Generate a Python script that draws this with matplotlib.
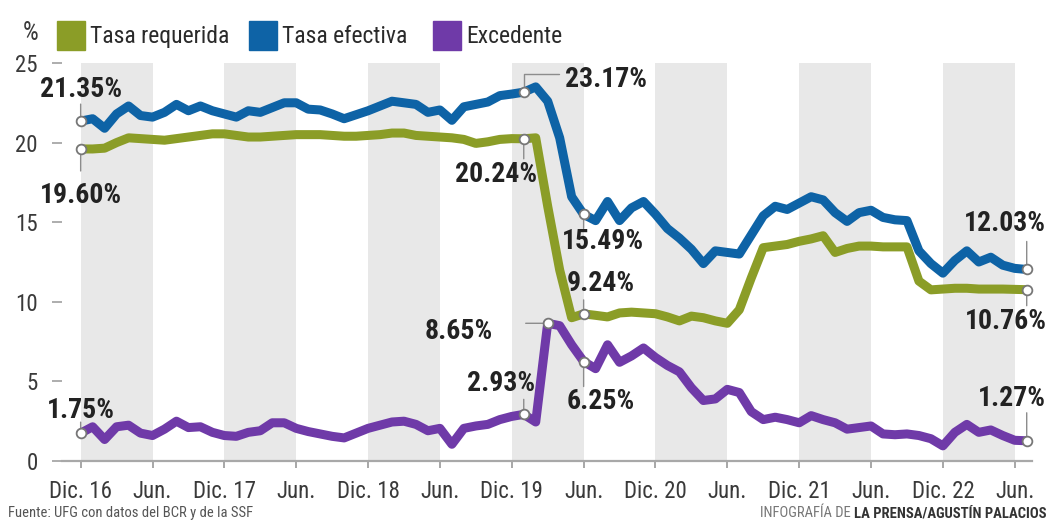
import matplotlib
matplotlib.use('Agg')
import matplotlib.pyplot as plt
from matplotlib import font_manager
from matplotlib.patches import Rectangle

# monthly series, Dic. 2016 -> mid 2023 (%)
requerida = [19.6, 19.6, 19.65, 20.0, 20.3, 20.25, 20.2, 20.15, 20.25, 20.35,
             20.45, 20.55, 20.55, 20.45, 20.35, 20.35, 20.4, 20.45, 20.5, 20.5,
             20.5, 20.45, 20.4, 20.4, 20.45, 20.5, 20.6, 20.6, 20.45, 20.4,
             20.35, 20.3, 20.2, 19.95, 20.05, 20.2, 20.25, 20.24, 20.3, 16.0,
             12.0, 9.0, 9.24, 9.15, 9.05, 9.3, 9.35, 9.3, 9.25, 9.05,
             8.8, 9.1, 9.0, 8.8, 8.65, 9.5, 11.5, 13.4, 13.5, 13.6,
             13.8, 13.95, 14.15, 13.1, 13.35, 13.5, 13.5, 13.45, 13.45, 13.45,
             11.3, 10.75, 10.8, 10.85, 10.85, 10.8, 10.8, 10.8, 10.78, 10.76]
efectiva = [21.35, 21.5, 20.9, 21.8, 22.3, 21.7, 21.6, 21.9, 22.4, 22.0,
            22.3, 22.0, 21.8, 21.6, 22.0, 21.9, 22.2, 22.5, 22.5, 22.1,
            22.05, 21.8, 21.5, 21.75, 22.0, 22.3, 22.6, 22.5, 22.4, 21.9,
            22.05, 21.4, 22.25, 22.4, 22.55, 22.95, 23.05, 23.17, 23.5, 22.6,
            20.3, 16.6, 15.49, 15.1, 16.3, 15.1, 15.9, 16.3, 15.5, 14.6,
            14.0, 13.3, 12.4, 13.2, 13.1, 13.0, 14.2, 15.4, 16.0, 15.8,
            16.2, 16.6, 16.4, 15.6, 15.05, 15.6, 15.75, 15.3, 15.15, 15.1,
            13.2, 12.4, 11.8, 12.6, 13.2, 12.5, 12.8, 12.3, 12.1, 12.03]
excedente = [1.75, 2.15, 1.35, 2.15, 2.25, 1.75, 1.6, 2.0, 2.5, 2.1,
             2.15, 1.8, 1.6, 1.55, 1.8, 1.9, 2.4, 2.4, 2.05, 1.85,
             1.7, 1.55, 1.45, 1.75, 2.05, 2.25, 2.45, 2.5, 2.3, 1.9,
             2.05, 1.05, 2.05, 2.2, 2.3, 2.6, 2.8, 2.93, 2.45, 8.65,
             8.5, 7.3, 6.25, 5.8, 7.3, 6.2, 6.6, 7.1, 6.5, 6.0,
             5.6, 4.6, 3.8, 3.9, 4.5, 4.3, 3.1, 2.6, 2.75, 2.6,
             2.4, 2.85, 2.6, 2.4, 2.0, 2.1, 2.2, 1.7, 1.65, 1.7,
             1.6, 1.4, 0.95, 1.8, 2.3, 1.8, 1.95, 1.6, 1.3, 1.27]
tick_labels = ['Dic. 16', 'Jun.', 'Dic. 17', 'Jun.', 'Dic. 18', 'Jun.', 'Dic. 19',
               'Jun.', 'Dic. 20', 'Jun.', 'Dic. 21', 'Jun.', 'Dic. 22', 'Jun.']

verde = '#8b9d27'
azul = '#0e63a6'
morado = '#6f3aa8'
texto = '#222222'

# pick a narrow font if there is one
names = set(f.name for f in font_manager.fontManager.ttflist)
narrow = 'DejaVu Sans'
for n in ['Liberation Sans Narrow', 'Roboto Condensed', 'Open Sans Condensed']:
    if n in names:
        narrow = n
        break
plt.rcParams['font.family'] = [narrow, 'DejaVu Sans']

fig = plt.figure(figsize=(10.5, 5.23), dpi=100)
ax = fig.add_axes([61.5 / 1050, 62 / 523, 970 / 1050, 398 / 523])

x = list(range(len(efectiva)))
ticks = list(range(0, 6 * len(tick_labels), 6))

# gray bands Dic -> Jun
for t in ticks[::2]:
    ax.axvspan(t, t + 6, color='#e8e8e8', lw=0, zorder=0)

estilo = dict(lw=6.5, solid_joinstyle='round', solid_capstyle='round')
ax.plot(x, requerida, color=verde, zorder=3, **estilo)
ax.plot(x, efectiva, color=azul, zorder=3, **estilo)
ax.plot(x, excedente, color=morado, zorder=4, **estilo)

ax.set_xlim(-1.6, 79.4)
ax.set_ylim(0, 25)
ax.set_xticks(ticks)
ax.set_xticklabels(tick_labels, fontsize=16.5, color='#3a3a3a')
ax.set_yticks([0, 5, 10, 15, 20, 25])
ax.tick_params(axis='x', length=5, width=1.3, color='#a0a0a0', pad=9)
ax.tick_params(axis='y', length=7, width=1.2, color='#a0a0a0', pad=10, labelsize=16.5, labelcolor='#3a3a3a')
for s in ['top', 'right', 'left']:
    ax.spines[s].set_visible(False)
ax.spines['bottom'].set_color('#a8a8a8')
ax.spines['bottom'].set_linewidth(1.6)


def note(serie, i, label, tx, ty, ha, lx, ly, elbow=False):
    xy = (i, serie[i])
    conn = 'angle,angleA=0,angleB=90,rad=0' if elbow else 'arc3'
    ax.annotate('', xy=xy, xytext=(lx, ly), textcoords='offset pixels',
                arrowprops=dict(arrowstyle='-', color='#8c8c8c', lw=1,
                                shrinkA=0, shrinkB=0, connectionstyle=conn),
                annotation_clip=False, zorder=5)
    ax.annotate(label, xy=xy, xytext=(tx, ty), textcoords='offset pixels',
                ha=ha, va='center', fontsize=20, fontweight='bold', color=texto,
                annotation_clip=False, zorder=7)
    ax.plot(i, serie[i], 'o', mfc='white', mec='#777777', ms=7, mew=1.3,
            zorder=8, clip_on=False)


note(efectiva, 0, '21.35%', 0, 32, 'center', 0, 17)
note(requerida, 0, '19.60%', 0, -47, 'center', 0, -22)
note(excedente, 0, '1.75%', 0, 23, 'center', 0, 11)
note(efectiva, 37, '23.17%', 41, 13, 'left', 35, 18, elbow=True)
note(requerida, 37, '20.24%', 13, -36, 'right', 0, -20)
note(excedente, 37, '2.93%', 11, 31, 'right', 0, 15)
note(excedente, 39, '8.65%', -55, -8, 'right', -22, 0)
note(efectiva, 42, '15.49%', 19, -27, 'center', 0, -14)
note(requerida, 42, '9.24%', 17, 30, 'center', 0, 14)
note(excedente, 42, '6.25%', 17, -40, 'center', 0, -25)
note(efectiva, 79, '12.03%', -22, 46, 'center', 0, 28)
note(requerida, 79, '10.76%', -21, -32, 'center', 0, -16)
note(excedente, 79, '1.27%', -15, 42, 'center', 0, 28)

# legend on top
fig.text(23 / 1050, 1 - 33 / 523, '%', fontsize=18, color='#3a3a3a', va='center')
leyenda = [(57, verde, 'Tasa requerida'), (249, azul, 'Tasa efectiva'), (433, morado, 'Excedente')]
for px, col, lab in leyenda:
    fig.patches.append(Rectangle((px / 1050, 1 - 50 / 523), 28 / 1050, 29 / 523,
                                 transform=fig.transFigure, color=col, figure=fig))
    fig.text((px + 33) / 1050, 1 - 36 / 523, lab, fontsize=17, color='#2a2a2a', va='center')

# footer
fig.text(8 / 1050, 6 / 523, 'Fuente: UFG con datos del BCR y de la SSF', fontsize=10.5, color='#555555')
bold = fig.text(1046 / 1050, 6 / 523, 'LA PRENSA/AGUSTÍN PALACIOS', fontsize=10.5,
                fontweight='bold', color='#333333', ha='right')
fig.canvas.draw()
bb = bold.get_window_extent()
fig.text((bb.x0 - 3) / 1050, 6 / 523, 'INFOGRAFÍA DE', fontsize=10.5, color='#777777', ha='right')

fig.savefig('out.png', dpi=100)
